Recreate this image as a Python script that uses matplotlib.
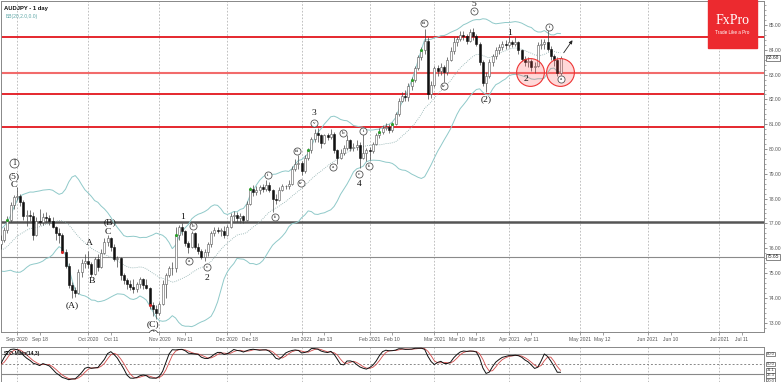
import numpy as np
import pandas as pd
import matplotlib
matplotlib.use("Agg")
import matplotlib.pyplot as plt
from matplotlib.patches import Rectangle
from matplotlib.ticker import MultipleLocator

## AUDJPY daily bars
# the first 20 bars (Jul 28 - Aug 24 2020) only feed BB / stochastic, they sit left of the frame
WARMUP = 20
first_open = 75.45
closes = [
    75.60, 75.75, 75.25, 74.95, 75.35, 75.55, 75.90, 75.85, 75.70, 75.95,
    76.20, 76.60, 76.45, 76.30, 76.10, 76.50, 76.05, 75.70, 75.85, 76.15,
    76.35, 76.75, 77.15, 77.75, 78.05, 78.10, 77.85, 77.30, 77.35, 77.30,
    76.55, 77.10, 77.05, 77.25, 77.20, 77.10, 76.85, 76.60, 76.55, 75.85,
    75.30, 74.50, 74.30, 74.20, 75.05, 75.40, 75.50, 75.35, 74.95, 75.55,
    75.25, 75.80, 76.25, 76.40, 76.05, 75.55, 75.60, 74.90, 74.70, 74.55,
    74.45, 74.35, 74.55, 74.75, 74.50, 74.40, 73.70, 73.55, 73.40, 73.75,
    74.55, 74.90, 75.20, 75.20, 76.55, 76.85, 76.70, 76.20, 76.05, 76.60,
    76.05, 75.90, 75.65, 75.85, 76.15, 76.60, 76.75, 76.70, 76.70, 76.55,
    76.85, 77.30, 77.35, 77.20, 77.30, 77.15, 77.80, 78.40, 78.25, 78.35,
    78.45, 78.40, 78.55, 78.35, 78.00, 77.95, 78.35, 78.50, 78.50, 78.60,
    79.20, 79.40, 79.45, 79.10, 79.65, 79.95, 80.40, 80.65, 80.55, 80.25,
    80.55, 80.50, 80.60, 79.95, 79.65, 79.85, 80.05, 80.35, 80.05, 80.10,
    80.15, 79.65, 79.85, 79.95, 79.90, 80.20, 80.55, 80.70, 80.85, 80.90,
    80.75, 81.00, 81.40, 81.95, 82.15, 82.10, 82.55, 82.80, 83.25, 83.70,
    84.00, 84.35, 82.20, 82.60, 83.25, 83.15, 83.30, 83.10, 83.60, 83.95,
    84.30, 84.45, 84.60, 84.55, 84.35, 84.70, 84.55, 84.25, 83.50, 82.65,
    82.95, 83.50, 83.75, 84.00, 84.10, 84.25, 84.20, 84.30, 84.25, 84.30,
    84.00, 83.65, 83.50, 83.55, 83.30, 83.35, 84.20, 84.25, 84.30, 84.05,
    83.75, 83.60, 83.05, 83.68,
]
highs = [
    75.95, 75.90, 75.85, 75.40, 75.50, 75.80, 76.00, 76.05, 75.95, 76.05,
    76.35, 76.75, 76.80, 76.60, 76.40, 76.70, 76.60, 76.15, 76.00, 76.35,
    76.55, 76.85, 77.30, 77.85, 78.15, 78.45, 78.20, 77.95, 77.55, 77.55,
    77.45, 77.25, 77.60, 77.40, 77.45, 77.35, 77.25, 76.90, 76.80, 76.60,
    75.95, 75.40, 74.65, 74.45, 75.15, 75.55, 75.75, 75.90, 75.45, 75.65,
    75.75, 75.95, 76.40, 76.55, 76.45, 76.15, 75.70, 75.65, 75.00, 74.80,
    74.70, 74.75, 74.65, 74.85, 74.80, 74.75, 74.45, 73.85, 73.70, 73.85,
    74.70, 75.00, 75.30, 75.45, 76.85, 76.95, 77.00, 76.75, 76.30, 76.70,
    76.65, 76.20, 75.95, 75.95, 76.25, 76.70, 76.85, 76.85, 76.80, 76.90,
    76.95, 77.40, 77.50, 77.45, 77.40, 77.35, 77.90, 78.45, 78.55, 78.50,
    78.55, 78.60, 78.75, 78.65, 78.40, 78.20, 78.45, 78.60, 78.55, 78.75,
    79.30, 79.60, 79.75, 79.50, 79.75, 80.05, 80.50, 80.80, 80.85, 80.60,
    80.60, 80.65, 80.80, 80.70, 80.00, 80.00, 80.15, 80.55, 80.40, 80.25,
    80.35, 80.30, 80.90, 80.05, 80.10, 80.30, 80.65, 80.85, 80.95, 81.05,
    81.00, 81.10, 81.50, 82.05, 82.30, 82.40, 82.65, 82.90, 83.35, 83.80,
    84.10, 84.85, 84.50, 82.75, 83.35, 83.40, 83.45, 83.40, 83.70, 84.10,
    84.50, 84.55, 84.75, 84.75, 84.65, 84.85, 84.90, 84.65, 84.30, 83.60,
    83.10, 83.65, 83.85, 84.10, 84.25, 84.35, 84.40, 84.55, 84.40, 84.50,
    84.35, 84.05, 83.75, 83.70, 83.65, 83.50, 84.30, 84.45, 84.45, 84.80,
    84.15, 83.85, 83.70, 83.75,
]
lows = [
    75.30, 75.45, 75.10, 74.60, 74.85, 75.25, 75.45, 75.60, 75.55, 75.60,
    75.85, 76.10, 76.30, 76.10, 75.95, 76.00, 75.95, 75.60, 75.55, 75.75,
    75.95, 76.25, 76.60, 77.05, 77.60, 77.95, 77.70, 77.15, 76.90, 77.10,
    76.35, 76.50, 76.95, 76.95, 77.05, 76.95, 76.80, 76.35, 76.20, 75.80,
    75.20, 74.40, 74.00, 74.05, 74.15, 74.85, 75.20, 75.20, 74.85, 74.90,
    75.10, 75.20, 75.75, 76.10, 75.90, 75.50, 75.25, 74.70, 74.55, 74.35,
    74.30, 74.20, 74.25, 74.40, 74.35, 74.35, 73.55, 73.25, 73.15, 73.30,
    73.70, 74.00, 74.85, 74.90, 75.05, 76.35, 76.55, 76.10, 75.80, 76.00,
    75.95, 75.75, 75.55, 75.50, 75.70, 76.05, 76.50, 76.60, 76.50, 76.40,
    76.50, 76.80, 77.10, 77.05, 77.00, 77.00, 77.10, 77.75, 78.10, 78.15,
    78.20, 78.25, 78.30, 78.25, 77.45, 77.80, 77.90, 78.30, 78.40, 78.40,
    78.55, 79.10, 79.20, 78.95, 79.05, 79.55, 79.85, 80.30, 80.30, 80.05,
    80.20, 80.35, 80.40, 79.85, 79.40, 79.60, 79.75, 79.95, 79.90, 79.90,
    79.95, 79.25, 79.60, 79.50, 79.55, 79.85, 80.15, 80.45, 80.60, 80.75,
    80.65, 80.70, 80.95, 81.35, 81.90, 81.95, 81.95, 82.40, 82.70, 83.20,
    83.60, 83.85, 82.00, 82.05, 82.50, 82.95, 83.00, 82.70, 83.00, 83.55,
    83.85, 84.15, 84.35, 84.40, 84.25, 84.30, 84.40, 84.15, 83.40, 82.55,
    82.30, 82.85, 83.35, 83.65, 83.85, 84.00, 84.05, 84.10, 84.10, 84.15,
    83.85, 83.55, 83.35, 83.30, 83.15, 83.05, 83.30, 84.05, 84.05, 83.95,
    83.60, 83.35, 82.95, 83.00,
]

# horizontal levels drawn on the chart
red_levels = [84.50, 83.05, 82.23, 80.90]
dark_level = 77.07
grey_level = 75.65

# small signal dots (bar numbers counted from Aug 25 2020)
green_dots = [2, 54, 77, 95, 117, 121, 127, 130]
red_dots = [19, 46]

# Elliott wave marks: text, bar, price, circled
waves = [
    ("1", 4.1, 79.44, "big"), ("(5)", 4.1, 78.91, ""), ("C", 4.1, 78.55, ""),
    ("(A)", 22.0, 73.71, ""), ("A", 27.3, 76.21, ""), ("B", 28.2, 74.68, ""),
    ("(B)", 33.7, 77.06, ""), ("C", 33.1, 76.65, ""), ("(C)", 47.0, 72.92, ""),
    ("2", 47.0, 72.55, "big"),
    ("1", 56.3, 77.26, ""), ("a", 58.2, 75.48, "c"), ("b", 59.4, 76.90, "c"),
    ("c", 63.7, 75.24, "c"), ("2", 63.7, 74.80, ""),
    ("i", 82.6, 78.95, "c"), ("ii", 84.8, 77.26, "c"), ("iii", 91.6, 79.92, "c"),
    ("iv", 92.8, 78.63, "c"), ("v", 96.8, 81.05, "c"), ("3", 96.8, 81.45, ""),
    ("a", 102.7, 79.27, "c"), ("b", 105.8, 80.65, "c"), ("c", 110.7, 78.99, "c"),
    ("4", 110.7, 78.59, ""),
    ("i", 112.0, 80.73, "c"), ("ii", 113.8, 79.31, "c"), ("iii", 130.8, 85.08, "c"),
    ("iv", 137.0, 82.54, "c"), ("v", 146.3, 85.55, "c"), ("5", 146.3, 85.86, ""),
    ("(2)", 150.0, 82.02, ""), ("1", 157.1, 84.68, ""), ("2", 162.3, 82.82, ""),
    ("i", 169.5, 84.92, "c"), ("a", 173.2, 82.82, "c"),
]

# in-between date labels: text and bars after the month start
mid_labels = ["Sep 18", "Oct 11", "Nov 11", "Dec 18", "Jan 13", "Feb 10",
              "Mar 10", "Mar 18", "Apr 11", "May 12", "Jun 10", "Jul 11"]
mid_offsets = [7, 7, 8, 7, 7, 7, 7, 13, 7, 7, 7, 7]

assert len(closes) == len(highs) == len(lows)

## series
c = pd.Series(closes)
h = pd.Series(highs)
l = pd.Series(lows)
o = pd.Series([first_open] + closes[:-1])
x = np.arange(len(c)) - WARMUP

mid = c.rolling(20).mean()
sd = c.rolling(20).std(ddof=0)
upper, lower = mid + 2 * sd, mid - 2 * sd

ll = l.rolling(14).min()
hh = h.rolling(14).max()
k = (c - ll).rolling(3).sum() / (hh - ll).rolling(3).sum() * 100
d = k.rolling(3).mean()

days = pd.bdate_range("2020-08-25", "2021-07-30")
month_pos = [i for i in range(1, len(days))
             if days[i].month != days[i - 1].month]
month_lab = [days[p].strftime("%b %Y") for p in month_pos]
mid_pos = [month_pos[i] + mid_offsets[j] for j, i in
           enumerate([0, 1, 2, 3, 4, 5, 6, 6, 7, 8, 9, 10])]

## figure
W, H = 782, 382
fig = plt.figure(figsize=(W / 100, H / 100), dpi=100)


def px_rect(x0, y0, x1, y1):
    return [x0 / W, 1 - y1 / H, (x1 - x0) / W, (y1 - y0) / H]


ax = fig.add_axes(px_rect(1, 1, 764, 332))
ax2 = fig.add_axes(px_rect(1, 347, 764, 382), sharex=ax)

ui = "Liberation Sans"
grid_kw = dict(color="#b5b5b5", lw=0.6, linestyle=(0, (2, 2)), zorder=0)

for p in month_pos:
    ax.axvline(p, **grid_kw)
    ax2.axvline(p, **grid_kw)

# levels
for lv in red_levels:
    if lv == 83.05:
        ax.axhline(lv, color="#f26b6b", lw=1.5, zorder=1)
    else:
        ax.axhline(lv, color="#e3161e", lw=1.3, zorder=1)
ax.axhline(dark_level, color="#555555", lw=1.8, zorder=1)
ax.axhline(grey_level, color="#8a8a8a", lw=0.8, zorder=1)

# bollinger bands
ax.plot(x, upper, color="#8fc9c9", lw=0.7, zorder=2)
ax.plot(x, lower, color="#8fc9c9", lw=0.7, zorder=2)
ax.plot(x, mid, color="#8aa", lw=0.6, linestyle=(0, (1, 1.5)), zorder=2)

# candles
ax.vlines(x, l, h, color="#444444", lw=0.5, zorder=3)
up = c >= o
body_lo = np.minimum(o, c)
body_h = np.maximum(np.abs(c - o), 0.015)
ax.bar(x[up], body_h[up], bottom=body_lo[up], width=0.62, color="white",
       edgecolor="#555555", lw=0.4, zorder=4)
ax.bar(x[~up], body_h[~up], bottom=body_lo[~up], width=0.62, color="#111111",
       edgecolor="#111111", lw=0.4, zorder=4)

gi = np.array(green_dots) + WARMUP
ri = np.array(red_dots) + WARMUP
ax.scatter(x[gi], c[gi], s=5, color="#2ca02c", zorder=5, lw=0)
ax.scatter(x[ri], c[ri], s=5, color="#d62728", zorder=5, lw=0)

# wave marks
for txt, bx, py, kind in waves:
    if kind == "":
        ax.text(bx, py, txt, ha="center", va="center", fontsize=6.8,
                family="Liberation Serif", color="#111", zorder=7, clip_on=True)
    else:
        size = 42 if kind == "big" else 26
        fs = 5.5 if kind == "big" else 3.6
        ax.scatter([bx], [py], s=size, facecolor="white", edgecolor="#555",
                   lw=0.6, zorder=6, clip_on=True)
        ax.text(bx, py, txt, ha="center", va="center", fontsize=fs,
                family="Liberation Serif", color="#111", zorder=7, clip_on=True)

# highlighted zones and projection arrow
ax.scatter([163.6, 172.9], [83.12, 83.12], s=400, facecolor=(1, 0.25, 0.25, 0.2),
           edgecolor="#ee3333", lw=0.8, zorder=5)
ax.annotate("", xy=(177.2, 84.48), xytext=(173.5, 83.79),
            arrowprops=dict(arrowstyle="-|>", lw=0.6, color="#222", mutation_scale=5),
            zorder=8)

# axes
ax.set_xlim(0.05, 235.9)
ax.set_ylim(72.62, 85.97)
ax.yaxis.tick_right()
ax.set_yticks(range(73, 86))
ax.set_yticklabels([f"{v:.2f}" for v in range(73, 86)])
ax.yaxis.set_minor_locator(MultipleLocator(0.2))
ax.tick_params(axis="y", which="major", labelsize=3.6, labelcolor="#555", length=2,
               width=0.5, color="#666", pad=1.5)
ax.tick_params(axis="y", which="minor", length=1.2, width=0.4, color="#666")
for lab in ax.get_yticklabels():
    lab.set_family(ui)

ax.set_xticks(month_pos + mid_pos)
ax.set_xticklabels(month_lab + mid_labels)
ax.tick_params(axis="x", labelsize=3.6, labelcolor="#555", length=2, width=0.5,
               color="#777", pad=1.5)
for lab in ax.get_xticklabels():
    lab.set_family(ui)

for a in (ax, ax2):
    for s in a.spines.values():
        s.set_color("#888")
        s.set_linewidth(0.7)
ax2.spines["bottom"].set_visible(False)

box = dict(boxstyle="square,pad=0.15", fc="white", ec="#555", lw=0.5)
for v in (closes[-1], grey_level):
    ax.annotate(f"{v:.2f}", xy=(1.0, v), xycoords=ax.get_yaxis_transform(),
                xytext=(2, 0), textcoords="offset points", fontsize=3.6, family=ui,
                va="center", ha="left", color="#333", bbox=box)

ax.text(0.004, 0.985, "AUDJPY - 1 day", transform=ax.transAxes, fontsize=4.2,
        family=ui, weight="bold", va="top", ha="left", color="#111")
ax.text(0.006, 0.96, "BB(20,2.0,0.0)", transform=ax.transAxes, fontsize=3.6,
        family=ui, va="top", ha="left", color="#5fa8a8")

# stochastic
for lv in (80, 20):
    ax2.axhline(lv, color="#888", lw=0.8, zorder=1)
ax2.axhline(50, color="#888", lw=0.7, linestyle=(0, (2, 2)), zorder=1)
ax2.plot(x, d, color="#d24a4a", lw=0.6, zorder=3)
ax2.plot(x, k, color="#111", lw=0.7, zorder=4)
ax2.set_ylim(-3.9, 100.9)
ax2.yaxis.tick_right()
ax2.set_yticks([])
ax2.tick_params(axis="x", which="both", bottom=False, labelbottom=False)
ax2.text(0.004, 0.82, "STO-Main(14,3)", transform=ax2.transAxes, fontsize=3.6,
         family=ui, weight="bold", va="center", ha="left", color="#111")

# right-hand value boxes, pushed apart so they do not sit on top of each other
vals = sorted([80, 50, 20, k.iloc[-1], d.iloc[-1]], reverse=True)
px_per_unit = 35 / 104.8
last_px = -99
for v in vals:
    ypx = (100.9 - v) * px_per_unit
    ypx = max(ypx, last_px + 5.2)
    last_px = ypx
    shift_pt = -(ypx - (100.9 - v) * px_per_unit) * 0.72
    ax2.annotate(f"{v:.1f}", xy=(1.0, v), xycoords=ax2.get_yaxis_transform(),
                 xytext=(2, shift_pt), textcoords="offset points", fontsize=3.0,
                 family=ui, va="center", ha="left", color="#333",
                 annotation_clip=False,
                 bbox=dict(boxstyle="square,pad=0.1", fc="white", ec="#555", lw=0.5))

# FxPro badge
fig.patches.append(Rectangle((708 / W, 1 - 48 / H), 49 / W, 48 / H,
                             transform=fig.transFigure, color="#ec2a2f", zorder=10))
fig.text(732.5 / W, 1 - 21 / H, "FxPro", ha="center", va="center", fontsize=10,
         family="Liberation Serif", color="white", zorder=11)
fig.text(732.5 / W, 1 - 32 / H, "Trade Like a Pro", ha="center", va="center",
         fontsize=3.3, family=ui, color="white", zorder=11)

fig.savefig("out.png", dpi=100, facecolor="white")
